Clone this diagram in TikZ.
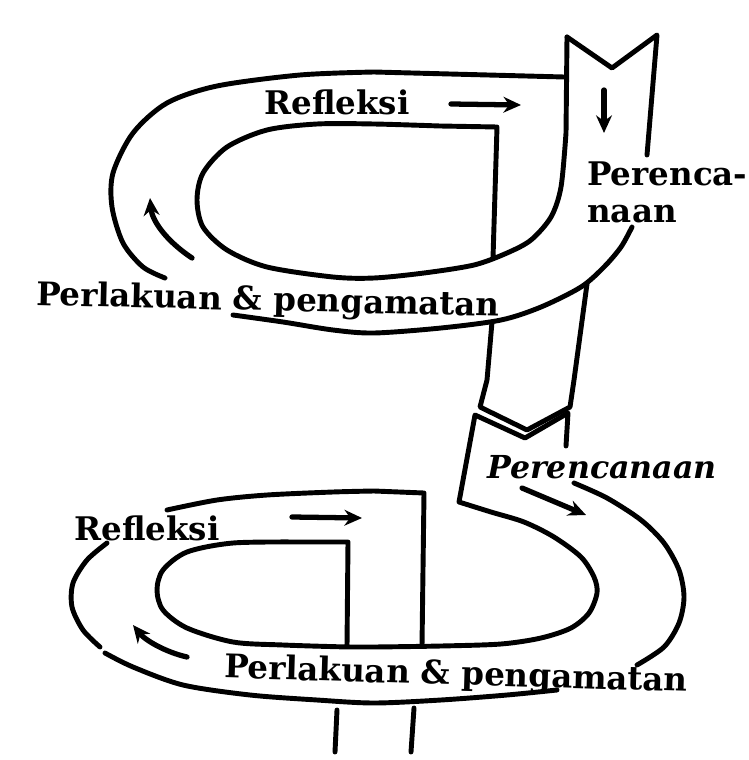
\documentclass[tikz,border=0pt]{standalone}
\usepackage{fontspec}
\setmainfont{DejaVu Serif}
\usepackage{tikz}
\usetikzlibrary{arrows.meta}

\begin{document}
\begin{tikzpicture}[x=0.02cm, y=-0.02cm, >=Stealth,
    band/.style={line width=2.8pt, line join=round, line cap=round},
    flow/.style={line width=3pt, line cap=round, arrows={-Stealth[length=10pt, width=9pt]}},
    lbl/.style={font=\bfseries\fontsize{18.5}{21}\selectfont, inner sep=0pt}]
    \useasboundingbox (0,0) rectangle (748,760);

    % first cycle
    \draw[band] (567,37) -- (612,68) -- (657,35) -- (647,155);
    \draw[band] (567,37) -- (566,133) plot[smooth] coordinates {(566,133) (561,187) (551,217) (531,240) (507,253) (474,265) (424,273) (374,278) (333,277) (267,267) (227,250) (203,227) (197,200) (203,173) (227,147) (267,130) (317,124) (374,124) (440,126)} -- (497,127) -- (493,258);
    \draw[band] (564,77) -- (374,72) plot[smooth] coordinates {(374,72) (300,75) (217,86) (167,103) (133,133) (113,173) (112,207) (123,243) (143,267) (165,278)};
    \draw[band] plot[smooth] coordinates {(632,227) (621,247) (604,267) (581,287) (541,307) (501,320) (441,328) (374,333) (333,330) (283,322) (233,315)};
    \draw[band] (492,322) -- (487,380) -- (480,407) -- (527,430) -- (570,407) -- (574,380) -- (587,284);

    % second cycle
    \draw[band] (566,446) -- (568,413) -- (525,438) -- (475,415) -- (459,502) plot[smooth] coordinates {(459,502) (491,512) (524,522) (554,537) (581,557) (594,577) (597,593) (589,613) (571,628) (541,638) (501,644) (441,646) (374,647) (348,647) (283,645) (233,642) (187,628) (163,610) (157,590) (163,570) (187,552) (233,543) (300,542)} -- (348,542) -- (347,646);
    \draw[band] plot[smooth] coordinates {(574,483) (607,498) (641,520) (664,543) (679,570) (684,597) (679,623) (664,647) (637,665)};
    \draw[band] plot[smooth] coordinates {(167,510) (217,500) (267,495) (333,492) (374,491)} -- (424,493) -- (422,646);
    \draw[band] plot[smooth] coordinates {(107,543) (87,560) (73,583) (72,607) (83,630) (100,647)};
    \draw[band] plot[smooth] coordinates {(105,653) (133,667) (183,685) (250,695) (317,700) (374,703) (441,700) (507,695) (557,690)};
    \draw[band] (337,710) -- (335,752);
    \draw[band] (414,708) -- (411,752);

    % arrows
    \draw[flow] (451,104) -- (521,105);
    \draw[flow] (604,90) -- (604,133);
    \draw[flow] (192,258) .. controls (165,240) and (152,220) .. (150,198);
    \draw[flow] (522,488) -- (586,515);
    \draw[flow] (292,517) -- (362,518);
    \draw[flow] (187,657) .. controls (165,652) and (145,640) .. (133,625);

    % labels
    \node[lbl] (refl1) at (337,102) {Refleksi};
    \node[lbl, align=left, anchor=west] (renc1) at (587,192) {Perenca-\\naan};
    \node[lbl, rotate=-1.4] (laku1) at (268,302) {Perlakuan \& pengamatan};
    \node[lbl, font=\bfseries\itshape\fontsize{18}{21}\selectfont] (renc2) at (602,467) {Perencanaan};
    \node[lbl] (refl2) at (147,528) {Refleksi};
    \node[lbl, rotate=-1.7] (laku2) at (456,676) {Perlakuan \& pengamatan};
\end{tikzpicture}
\end{document}
